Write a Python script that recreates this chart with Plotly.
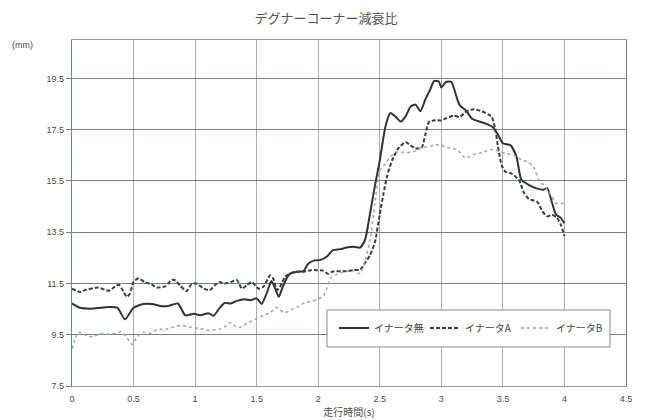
import plotly.graph_objects as go

# 走行時間(s) / 減衰 (mm) — イナータ無
t_none = [0.0, 0.065, 0.17, 0.3, 0.37, 0.43, 0.5, 0.58, 0.65, 0.72, 0.78, 0.86, 0.92, 0.99,
          1.04, 1.11, 1.15, 1.2, 1.24, 1.29, 1.34, 1.4, 1.45, 1.5, 1.54, 1.58, 1.62, 1.65,
          1.68, 1.71, 1.75, 1.78, 1.83, 1.88, 1.92, 1.97, 2.02, 2.07, 2.12, 2.18, 2.23, 2.29,
          2.34, 2.38, 2.42, 2.46, 2.5, 2.545, 2.585, 2.63, 2.67, 2.71, 2.75, 2.79, 2.83, 2.87,
          2.91, 2.94, 2.98, 3.0, 3.04, 3.08, 3.13, 3.15, 3.2, 3.25, 3.32, 3.37, 3.42, 3.46,
          3.5, 3.56, 3.61, 3.65, 3.71, 3.78, 3.83, 3.86, 3.9, 3.93, 3.97, 4.0]
v_none = [10.72, 10.55, 10.52, 10.58, 10.55, 10.1, 10.55, 10.7, 10.7, 10.62, 10.62, 10.72, 10.26, 10.32,
          10.26, 10.34, 10.24, 10.55, 10.74, 10.72, 10.82, 10.88, 10.85, 10.92, 10.7, 11.1, 11.6, 11.3,
          10.98, 11.35, 11.76, 11.9, 11.96, 11.98, 12.28, 12.4, 12.42, 12.55, 12.8, 12.84, 12.9, 12.93,
          12.9, 13.2, 14.2, 15.3, 16.3, 17.6, 18.15, 18.0, 17.82, 18.02, 18.4, 18.48, 18.22, 18.68,
          19.07, 19.4, 19.38, 19.15, 19.37, 19.37, 18.68, 18.45, 18.25, 17.93, 17.8, 17.72, 17.6, 17.3,
          16.97, 16.9, 16.45, 15.55, 15.35, 15.2, 15.16, 15.22, 14.64, 14.2, 14.06, 13.85]

# イナータA
t_a = [0.0, 0.065, 0.11, 0.21, 0.3, 0.35, 0.38, 0.42, 0.445, 0.47, 0.5, 0.54, 0.59, 0.65, 0.69,
       0.76, 0.81, 0.84, 0.88, 0.93, 0.97, 1.01, 1.07, 1.12, 1.16, 1.2, 1.24, 1.29, 1.34, 1.38,
       1.42, 1.46, 1.515, 1.555, 1.61, 1.635, 1.665, 1.69, 1.73, 1.77, 1.83, 1.88, 1.94, 1.99,
       2.04, 2.08, 2.12, 2.23, 2.29, 2.34, 2.38, 2.42, 2.46, 2.5, 2.53, 2.56, 2.6, 2.65, 2.71,
       2.75, 2.79, 2.84, 2.87, 2.9, 2.95, 3.0, 3.04, 3.1, 3.15, 3.2, 3.26, 3.33, 3.38, 3.41,
       3.44, 3.46, 3.49, 3.52, 3.57, 3.63, 3.67, 3.71, 3.78, 3.82, 3.86, 3.9, 3.94, 3.97, 4.0]
v_a = [11.3, 11.17, 11.25, 11.34, 11.22, 11.38, 11.45, 11.17, 10.98, 11.1, 11.56, 11.7, 11.56, 11.45, 11.34,
       11.4, 11.64, 11.62, 11.41, 11.2, 11.47, 11.5, 11.3, 11.24, 11.43, 11.56, 11.5, 11.56, 11.63, 11.3,
       11.43, 11.56, 11.3, 11.37, 11.82, 11.69, 11.24, 11.37, 11.76, 11.89, 11.96, 11.96, 12.02, 12.02,
       12.0, 11.88, 11.97, 11.98, 12.02, 12.04, 12.3, 12.6, 13.1, 14.2, 15.0, 15.7, 16.3, 16.77, 17.02,
       16.88, 16.77, 16.8, 17.3, 17.8, 17.87, 17.86, 17.95, 18.05, 18.0, 18.2, 18.3, 18.22, 18.1, 18.0,
       17.47, 16.85, 16.12, 15.86, 15.79, 15.54, 15.05, 14.8, 14.68, 14.32, 14.12, 14.18, 14.06, 13.8, 13.35]

# イナータB
t_b = [0.0, 0.03, 0.05, 0.09, 0.12, 0.17, 0.23, 0.31, 0.37, 0.4, 0.445, 0.485, 0.53, 0.58, 0.63,
       0.69, 0.77, 0.84, 0.88, 0.96, 1.04, 1.12, 1.2, 1.25, 1.285, 1.325, 1.37, 1.43, 1.5, 1.555,
       1.61, 1.66, 1.69, 1.73, 1.77, 1.83, 1.89, 1.94, 1.99, 2.04, 2.07, 2.1, 2.15, 2.23, 2.29,
       2.34, 2.38, 2.42, 2.46, 2.5, 2.545, 2.585, 2.63, 2.68, 2.76, 2.83, 2.88, 2.95, 2.99, 3.03,
       3.08, 3.13, 3.195, 3.26, 3.33, 3.4, 3.44, 3.48, 3.53, 3.59, 3.66, 3.7, 3.75, 3.79, 3.83,
       3.89, 3.93, 3.98, 4.0]
v_b = [8.95, 9.4, 9.6, 9.55, 9.45, 9.42, 9.54, 9.52, 9.58, 9.62, 9.4, 9.12, 9.42, 9.6, 9.55,
       9.7, 9.72, 9.82, 9.86, 9.8, 9.74, 9.67, 9.72, 9.84, 9.98, 9.82, 9.79, 9.97, 10.12, 10.26,
       10.36, 10.57, 10.46, 10.36, 10.46, 10.58, 10.75, 10.8, 10.88, 11.0, 11.3, 11.7, 11.86, 11.98, 12.0,
       11.88, 12.4, 13.15, 14.6, 15.9, 16.18, 16.44, 16.62, 16.62, 16.62, 16.77, 16.83, 16.9, 16.92, 16.83,
       16.78, 16.72, 16.4, 16.53, 16.6, 16.73, 16.7, 16.64, 16.57, 16.5, 16.3, 16.25, 16.05, 15.55, 15.34,
       14.95, 14.63, 14.63, 14.56]

x_ticks = [0, 0.5, 1, 1.5, 2, 2.5, 3, 3.5, 4, 4.5]
y_ticks = [7.5, 9.5, 11.5, 13.5, 15.5, 17.5, 19.5]

JP = "Noto Sans CJK JP"
TXT = "#4a4a4a"

# plot-area geometry in pixels (used to place the legend frame)
L, R, T, B = 72, 626, 40, 386
PW, PH = R - L, B - T

fig = go.Figure()
fig.add_trace(go.Scatter(x=t_none, y=v_none, name="イナータ無", mode="lines",
                         line=dict(color="#333333", width=2, shape="spline", smoothing=0.6)))
fig.add_trace(go.Scatter(x=t_a, y=v_a, name="イナータA", mode="lines",
                         line=dict(color="#3c3c3c", width=2, dash="4px,2px", shape="spline", smoothing=0.6)))
fig.add_trace(go.Scatter(x=t_b, y=v_b, name="イナータB", mode="lines",
                         line=dict(color="#a4a4a4", width=1.5, dash="dot", shape="spline", smoothing=0.6)))

fig.update_layout(
    width=645, height=420,
    margin=dict(l=L, r=645 - R, t=T, b=420 - B, autoexpand=False),
    paper_bgcolor="white", plot_bgcolor="white",
    font=dict(family=JP, size=9, color=TXT),
    title=dict(text="デグナーコーナー減衰比", x=326 / 645, xanchor="center",
               y=1 - 18 / 420, yanchor="middle",
               font=dict(family=JP, size=13, color="#555555")),
    showlegend=True,
    legend=dict(orientation="h", x=(334 - L) / PW, xanchor="left",
                y=(B - 328) / PH, yanchor="middle",
                bgcolor="rgba(0,0,0,0)", borderwidth=0,
                entrywidth=46, entrywidthmode="pixels",
                font=dict(family=JP, size=10, color="#444444")),
    xaxis=dict(range=[0, 4.5], tickvals=x_ticks, ticktext=[f"{v:g}" for v in x_ticks],
               showgrid=True, gridcolor="#adadad", gridwidth=1,
               showline=True, linecolor="#9a9a9a", linewidth=1, mirror=True,
               zeroline=False, ticks="", ticklabelstandoff=4,
               tickfont=dict(family="Liberation Sans", size=9, color=TXT),
               title=dict(text="走行時間(s)", standoff=2,
                          font=dict(family=JP, size=10, color=TXT))),
    yaxis=dict(range=[7.5, 21.0], tickvals=y_ticks, ticktext=[f"{v:g}" for v in y_ticks],
               showgrid=True, gridcolor="#6f8585", gridwidth=1.3,
               showline=True, linecolor="#6f8585", linewidth=1.3, mirror=True,
               zeroline=False, ticks="outside", ticklen=5, tickcolor="#6f8585",
               tickfont=dict(family="Liberation Sans", size=9, color=TXT)),
)

# legend frame
fig.add_shape(type="rect", xref="paper", yref="paper", layer="above",
              x0=(327 - L) / PW, x1=(610 - L) / PW,
              y0=(B - 347) / PH, y1=(B - 310) / PH,
              fillcolor="white", line=dict(color="#8c8c8c", width=1))

fig.add_annotation(text="(mm)", xref="paper", yref="paper",
                   x=-50 / PW, y=1 - 5 / PH, xanchor="center", yanchor="middle",
                   showarrow=False, font=dict(family="Liberation Sans", size=9, color=TXT))

fig.write_html("out.html")
